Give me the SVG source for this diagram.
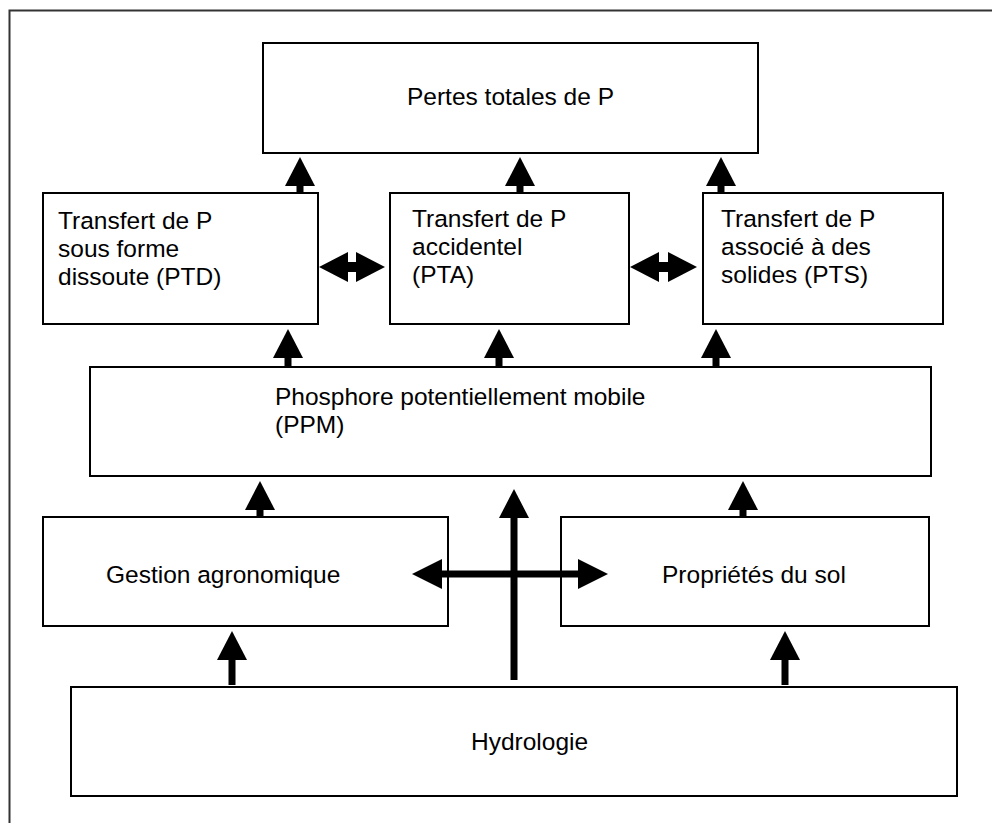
<svg xmlns="http://www.w3.org/2000/svg" width="992" height="823" viewBox="0 0 992 823">
  <style>
    .box { fill: #fff; stroke: #000; stroke-width: 2; }
    .frame { fill: none; stroke: #333; stroke-width: 2; }
    .lbl { font-family: "Liberation Sans", Arial, sans-serif; font-size: 24.5px; fill: #000; }
    .arr { fill: #000; stroke: none; }
  </style>
  <defs>
    <!-- upward arrow: tip at origin, head 30 wide x 29 tall -->
    <path id="headUp" d="M0,0 L15,29 L-15,29 Z"/>
  </defs>

  <rect class="frame" x="9.5" y="10.5" width="1000" height="830"/>

  <g id="pertes">
    <rect class="box" x="263" y="43" width="495" height="110"/>
    <text class="lbl" x="510.5" y="105" text-anchor="middle">Pertes totales de P</text>
  </g>

  <g id="ptd">
    <rect class="box" x="43" y="193" width="275" height="131"/>
    <text class="lbl" x="58" y="229">Transfert de P</text>
    <text class="lbl" x="58" y="257">sous forme</text>
    <text class="lbl" x="58" y="285">dissoute (PTD)</text>
  </g>

  <g id="pta">
    <rect class="box" x="390" y="193" width="239" height="131"/>
    <text class="lbl" x="412" y="227">Transfert de P</text>
    <text class="lbl" x="412" y="255">accidentel</text>
    <text class="lbl" x="412" y="283">(PTA)</text>
  </g>

  <g id="pts">
    <rect class="box" x="703" y="193" width="240" height="131"/>
    <text class="lbl" x="721" y="227">Transfert de P</text>
    <text class="lbl" x="721" y="255">associé à des</text>
    <text class="lbl" x="721" y="283">solides (PTS)</text>
  </g>

  <g id="ppm">
    <rect class="box" x="90" y="367" width="841" height="109"/>
    <text class="lbl" x="275" y="405">Phosphore potentiellement mobile</text>
    <text class="lbl" x="275" y="433">(PPM)</text>
  </g>

  <g id="gestion">
    <rect class="box" x="43" y="517" width="405" height="109"/>
    <text class="lbl" x="106" y="583">Gestion agronomique</text>
  </g>

  <g id="proprietes">
    <rect class="box" x="561" y="517" width="368" height="109"/>
    <text class="lbl" x="662" y="583">Propriétés du sol</text>
  </g>

  <g id="hydrologie">
    <rect class="box" x="71" y="687" width="886" height="109"/>
    <text class="lbl" x="471" y="750">Hydrologie</text>
  </g>

  <g id="connectors" class="arr">
    <!-- into Pertes totales -->
    <use href="#headUp" x="300" y="157"/><rect x="296.5" y="184" width="7" height="9"/>
    <use href="#headUp" x="520" y="157"/><rect x="516.5" y="184" width="7" height="9"/>
    <use href="#headUp" x="721" y="157"/><rect x="717.5" y="184" width="7" height="9"/>

    <!-- PTD <-> PTA -->
    <path d="M319,267 L348,252 L348,282 Z"/>
    <path d="M385,267 L356,252 L356,282 Z"/>
    <rect x="346" y="262" width="12" height="10"/>
    <!-- PTA <-> PTS -->
    <path d="M630,267 L659,252 L659,282 Z"/>
    <path d="M697,267 L668,252 L668,282 Z"/>
    <rect x="657" y="262" width="12" height="10"/>

    <!-- PPM up to transfer boxes -->
    <use href="#headUp" x="288" y="329"/><rect x="284.5" y="356" width="7" height="11"/>
    <use href="#headUp" x="499" y="329"/><rect x="495.5" y="356" width="7" height="11"/>
    <use href="#headUp" x="716" y="329"/><rect x="712.5" y="356" width="7" height="11"/>

    <!-- Gestion / Propriétés up to PPM -->
    <use href="#headUp" x="260" y="481"/><rect x="256.5" y="508" width="7" height="9"/>
    <use href="#headUp" x="743" y="481"/><rect x="739.5" y="508" width="7" height="9"/>

    <!-- Hydrologie up to Gestion / Propriétés -->
    <use href="#headUp" x="232" y="631"/><rect x="228.5" y="658" width="7" height="27"/>
    <use href="#headUp" x="785" y="631"/><rect x="781.5" y="658" width="7" height="27"/>

    <!-- Hydrologie up to PPM (central) -->
    <use href="#headUp" x="514" y="489"/><rect x="510.5" y="516" width="7" height="164"/>

    <!-- Gestion <-> Propriétés -->
    <path d="M412,574 L442,559 L442,589 Z"/>
    <path d="M608,574 L578,559 L578,589 Z"/>
    <rect x="440" y="570.5" width="140" height="7"/>
  </g>
</svg>
